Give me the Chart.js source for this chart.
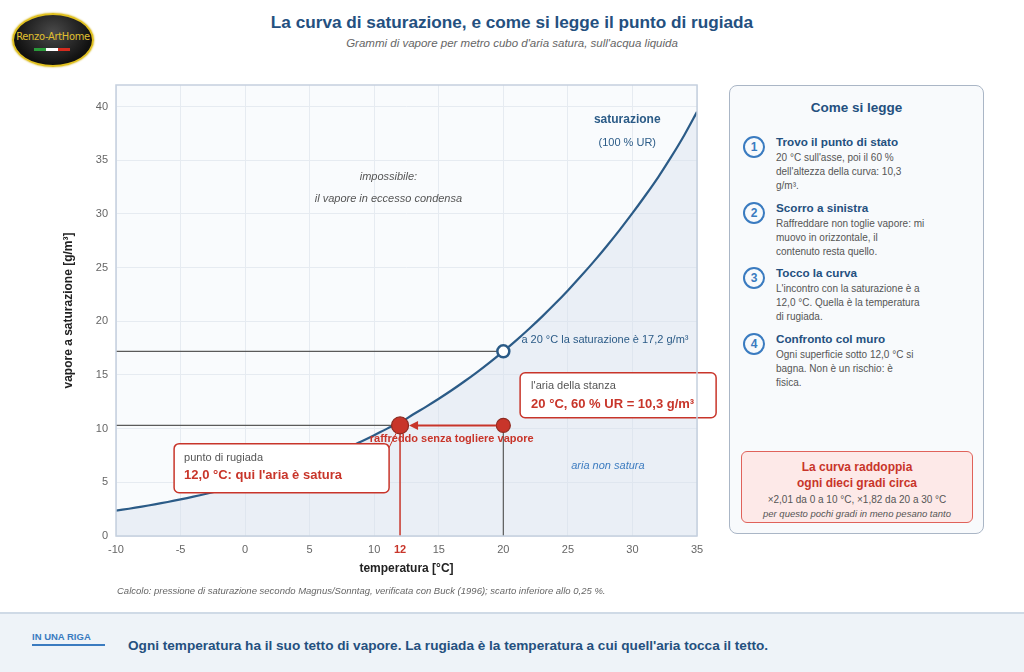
<!DOCTYPE html>
<html lang="it">
<head>
<meta charset="UTF-8">
<title>La curva di saturazione</title>
<style>
  body { margin: 0; width: 1024px; height: 672px; background: #fff; font-family: "Liberation Sans", Arial, sans-serif; position: relative; overflow: hidden; }
  .logo { position: absolute; left: 12px; top: 13px; width: 78px; height: 50px; border-radius: 50%; border: 2px solid #e0c020;
          background: radial-gradient(ellipse at 50% 35%, #4a4a4a 0%, #111 70%); box-shadow: 0 0 2px #c9a800; }
  .logo span { position: absolute; left: 0; right: 0; top: 15px; text-align: center; color: #e0c030; font-size: 11px; font-family: "Liberation Sans Narrow", "DejaVu Sans Condensed", sans-serif; letter-spacing: -0.3px; }
  .logo i { position: absolute; top: 33px; height: 3px; width: 12px; }
  h1 { position: absolute; top: 12px; left: 0; width: 1024px; margin: 0; text-align: center; font-size: 17.2px; color: #24507f; }
  .sub { position: absolute; top: 37px; left: 0; width: 1024px; text-align: center; font-size: 11.5px; font-style: italic; color: #666; }
  #wrap { position: absolute; left: 0; top: 70px; width: 720px; height: 520px; }
  .note { position: absolute; left: 117px; top: 585px; font-size: 9.5px; font-style: italic; color: #666; }
  .panel { position: absolute; left: 729px; top: 85px; width: 255px; height: 449px; border: 1.5px solid #aab6c6; border-radius: 8px; background: #f8fafc; box-sizing: border-box; }
  .panel h2 { margin: 0; position: absolute; top: 14px; width: 100%; text-align: center; font-size: 13.5px; color: #24507f; }
  .step { position: absolute; left: 10px; width: 240px; }
  .num { position: absolute; left: 3px; top: 2px; width: 18px; height: 18px; border: 2px solid #3a7bc0; border-radius: 50%; color: #3a7bc0; font-weight: bold; font-size: 12px; text-align: center; line-height: 18px; }
  .step b { position: absolute; left: 36px; top: 1px; font-size: 11.7px; color: #24507f; white-space: nowrap; }
  .step p { position: absolute; left: 36px; top: 17px; margin: 0; white-space: nowrap; font-size: 10px; line-height: 14px; color: #555; }
  .red { position: absolute; left: 11px; top: 365px; width: 232px; height: 72px; box-sizing: border-box; border: 1.5px solid #e0625a; border-radius: 6px; background: #fde9e8; text-align: center; }
  .red .t { color: #c8352a; font-weight: bold; font-size: 12px; line-height: 16px; margin-top: 7px; }
  .red .s { color: #555; font-size: 10px; margin-top: 3px; }
  .red .e { color: #555; font-size: 9.5px; font-style: italic; margin-top: 3px; }
  .band { position: absolute; left: 0; top: 612px; width: 1024px; height: 60px; background: #eef3f8; border-top: 2px solid #cfdae6; }
  .band .k { position: absolute; left: 32px; top: 17px; font-size: 9.5px; font-weight: bold; color: #3a7bc0; }
  .band .bar { position: absolute; left: 32px; top: 30px; width: 73px; height: 2px; background: #3a7bc0; }
  .band .m { position: absolute; left: 128px; top: 24px; font-size: 13.6px; font-weight: bold; color: #24507f; }
</style>
</head>
<body>

<div class="logo"><span>Renzo-ArtHome</span>
  <i style="left:20px;background:#2a9a3a"></i><i style="left:32px;background:#fff"></i><i style="left:44px;background:#d52b1e"></i>
</div>
<h1>La curva di saturazione, e come si legge il punto di rugiada</h1>
<div class="sub">Grammi di vapore per metro cubo d'aria satura, sull'acqua liquida</div>

<div id="wrap"><canvas id="chart" width="720" height="520"></canvas></div>

<div class="note">Calcolo: pressione di saturazione secondo Magnus/Sonntag, verificata con Buck (1996); scarto inferiore allo 0,25 %.</div>

<div class="panel">
  <h2>Come si legge</h2>
  <div class="step" style="top:48px"><div class="num">1</div><b>Trovo il punto di stato</b>
    <p>20 °C sull'asse, poi il 60 %<br>dell'altezza della curva: 10,3<br>g/m³.</p></div>
  <div class="step" style="top:114px"><div class="num">2</div><b>Scorro a sinistra</b>
    <p>Raffreddare non toglie vapore: mi<br>muovo in orizzontale, il<br>contenuto resta quello.</p></div>
  <div class="step" style="top:179px"><div class="num">3</div><b>Tocco la curva</b>
    <p>L'incontro con la saturazione è a<br>12,0 °C. Quella è la temperatura<br>di rugiada.</p></div>
  <div class="step" style="top:245px"><div class="num">4</div><b>Confronto col muro</b>
    <p>Ogni superficie sotto 12,0 °C si<br>bagna. Non è un rischio: è<br>fisica.</p></div>
  <div class="red">
    <div class="t">La curva raddoppia<br>ogni dieci gradi circa</div>
    <div class="s">×2,01 da 0 a 10 °C, ×1,82 da 20 a 30 °C</div>
    <div class="e">per questo pochi gradi in meno pesano tanto</div>
  </div>
</div>

<div class="band">
  <div class="k">IN UNA RIGA</div><div class="bar"></div>
  <div class="m">Ogni temperatura ha il suo tetto di vapore. La rugiada è la temperatura a cui quell'aria tocca il tetto.</div>
</div>

<script src="https://cdn.jsdelivr.net/npm/chart.js"></script>
<script>
// temperature [°C] and saturation vapour [g/m³]
const temps = [-10, -9, -8, -7, -6, -5, -4, -3, -2, -1, 0, 1, 2, 3, 4, 5, 6, 7, 8, 9, 10, 11, 12,
               13, 14, 15, 16, 17, 18, 19, 20, 21, 22, 23, 24, 25, 26, 27, 28, 29, 30, 31, 32, 33, 34, 35];
const satVapour = [2.36, 2.54, 2.74, 2.95, 3.17, 3.41, 3.66, 3.93, 4.22, 4.52, 4.85, 5.20, 5.56,
                   5.95, 6.36, 6.80, 7.26, 7.75, 8.27, 8.81, 9.39, 10.0, 10.55, 11.31, 12.03, 12.78,
                   13.57, 14.41, 15.29, 16.22, 17.2, 18.22, 19.30, 20.43, 21.62, 22.87, 24.18, 25.55,
                   26.99, 28.49, 30.06, 31.71, 33.43, 35.3, 37.3, 39.5];
const xTicks = [-10, -5, 0, 5, 10, 12, 15, 20, 25, 30, 35];
const roomT = 20, roomV = 10.3, satAtRoom = 17.2;
const dewT = 12, dewV = 10.3;

const RED = '#c8352a', BLUE = '#2b5b87';
const FONT = '"Liberation Sans", Arial, sans-serif';

function line(pts, color, width) {
  return { type: 'line', data: pts, borderColor: color, borderWidth: width, pointRadius: 0, fill: false, tension: 0, order: 1 };
}

const bgPlugin = {
  id: 'bg',
  beforeDraw(chart) {
    const { ctx, chartArea: a } = chart;
    ctx.save();
    ctx.fillStyle = '#f9fbfd';
    ctx.fillRect(a.left, a.top, a.right - a.left, a.bottom - a.top);
    ctx.restore();
  },
  afterDraw(chart) {
    const { ctx, chartArea: a } = chart;
    ctx.save();
    ctx.strokeStyle = '#c5d0de';
    ctx.lineWidth = 1.5;
    ctx.strokeRect(a.left, a.top, a.right - a.left, a.bottom - a.top);
    ctx.restore();
  }
};

function box(ctx, x, y, w, h, r) {
  ctx.beginPath();
  ctx.moveTo(x + r, y);
  ctx.arcTo(x + w, y, x + w, y + h, r);
  ctx.arcTo(x + w, y + h, x, y + h, r);
  ctx.arcTo(x, y + h, x, y, r);
  ctx.arcTo(x, y, x + w, y, r);
  ctx.closePath();
}

const notesPlugin = {
  id: 'notes',
  afterDatasetsDraw(chart) {
    const { ctx } = chart;
    const xs = chart.scales.x, ys = chart.scales.y;
    const X = v => xs.getPixelForValue(v), Y = v => ys.getPixelForValue(v);
    ctx.save();
    ctx.textBaseline = 'middle';

    // arrow: cooling at constant vapour
    const ay = Y(roomV);
    ctx.strokeStyle = RED; ctx.fillStyle = RED; ctx.lineWidth = 2;
    ctx.beginPath(); ctx.moveTo(X(roomT) - 7, ay); ctx.lineTo(X(dewT) + 16, ay); ctx.stroke();
    ctx.beginPath(); ctx.moveTo(X(dewT) + 9, ay); ctx.lineTo(X(dewT) + 18, ay - 4.5); ctx.lineTo(X(dewT) + 18, ay + 4.5); ctx.closePath(); ctx.fill();
    ctx.font = 'bold 11px ' + FONT; ctx.textAlign = 'center';
    ctx.fillText('raffreddo senza togliere vapore', X(16), Y(9.0));

    // point labels
    ctx.textAlign = 'left'; ctx.fillStyle = BLUE; ctx.font = '11px ' + FONT;
    ctx.fillText('a 20 °C la saturazione è 17,2 g/m³', X(21.4), Y(18.3));
    ctx.textAlign = 'center'; ctx.font = 'bold 12px ' + FONT;
    ctx.fillText('saturazione', X(29.6), Y(38.8));
    ctx.font = '11px ' + FONT;
    ctx.fillText('(100 % UR)', X(29.6), Y(36.6));
    ctx.fillStyle = '#555'; ctx.font = 'italic 11px ' + FONT;
    ctx.fillText('impossibile:', X(11.1), Y(33.4));
    ctx.fillText('il vapore in eccesso condensa', X(11.1), Y(31.4));
    ctx.fillStyle = '#3d7cc0';
    ctx.fillText('aria non satura', X(28.1), Y(6.5));

    // room box
    let bx = X(21.3), by = Y(15.2);
    box(ctx, bx, by, 196, 45, 5);
    ctx.fillStyle = '#fff'; ctx.fill(); ctx.strokeStyle = RED; ctx.lineWidth = 1.5; ctx.stroke();
    ctx.textAlign = 'left'; ctx.fillStyle = '#555'; ctx.font = '11px ' + FONT;
    ctx.fillText("l'aria della stanza", bx + 11, by + 13);
    ctx.fillStyle = RED; ctx.font = 'bold 13px ' + FONT;
    ctx.fillText('20 °C, 60 % UR = 10,3 g/m³', bx + 11, by + 32);

    // dew box + connector
    bx = X(-5.5); by = Y(8.6);
    ctx.strokeStyle = RED; ctx.lineWidth = 1;
    ctx.beginPath(); ctx.moveTo(bx + 213, by + 8); ctx.lineTo(X(dewT) - 3, Y(dewV) + 6); ctx.stroke();
    box(ctx, bx, by, 215, 49, 5);
    ctx.fillStyle = '#fff'; ctx.fill(); ctx.lineWidth = 1.5; ctx.stroke();
    ctx.fillStyle = '#555'; ctx.font = '11px ' + FONT;
    ctx.fillText('punto di rugiada', bx + 10, by + 14);
    ctx.fillStyle = RED; ctx.font = 'bold 13px ' + FONT;
    ctx.fillText("12,0 °C: qui l'aria è satura", bx + 10, by + 32);
    ctx.restore();
  }
};

new Chart(document.getElementById('chart'), {
  type: 'scatter',
  data: {
    datasets: [
      line([{ x: -10, y: satAtRoom }, { x: roomT, y: satAtRoom }], '#5a5a5a', 1.2),
      line([{ x: -10, y: dewV }, { x: dewT, y: dewV }], '#5a5a5a', 1.2),
      line([{ x: roomT, y: 0 }, { x: roomT, y: roomV }], '#5a5a5a', 1.2),
      line([{ x: dewT, y: 0 }, { x: dewT, y: dewV }], RED, 1.5),
      {
        type: 'line', order: 2,
        data: temps.map((t, i) => ({ x: t, y: satVapour[i] })),
        borderColor: BLUE, borderWidth: 2.2, pointRadius: 0, tension: 0.3,
        fill: 'origin', backgroundColor: 'rgba(214,224,238,0.45)'
      },
      {
        order: 0,
        data: [{ x: roomT, y: satAtRoom }],
        pointRadius: 6, pointBackgroundColor: '#fff', pointBorderColor: BLUE, pointBorderWidth: 2.5
      },
      {
        order: 0,
        data: [{ x: dewT, y: dewV }, { x: roomT, y: roomV }],
        pointRadius: [8.5, 7], pointBackgroundColor: RED, pointBorderColor: '#8e2a20', pointBorderWidth: 1.2
      }
    ]
  },
  options: {
    responsive: false,
    animation: false,
    layout: { padding: { left: 57, right: 23, top: 15, bottom: 0 } },
    plugins: { legend: { display: false }, tooltip: { enabled: false } },
    scales: {
      x: {
        type: 'linear', min: -10, max: 35,
        afterBuildTicks: s => { s.ticks = xTicks.map(v => ({ value: v })); },
        afterFit: s => { s.height = 54; },
        grid: { color: c => c.tick && c.tick.value === dewT ? 'rgba(0,0,0,0)' : '#e6ebf1', drawTicks: false },
        border: { display: false },
        ticks: {
          padding: 7,
          color: c => c.tick.value === dewT ? RED : '#666',
          font: c => ({ family: FONT, size: 11, weight: c.tick && c.tick.value === dewT ? 'bold' : 'normal' })
        },
        title: { display: true, text: 'temperatura [°C]', color: '#222', font: { family: FONT, size: 12, weight: 'bold' }, padding: { top: 0, bottom: 14 } }
      },
      y: {
        min: 0, max: 42,
        afterFit: s => { s.width = 59; },
        grid: { color: '#e6ebf1', drawTicks: false },
        border: { display: false },
        ticks: { stepSize: 5, includeBounds: false, padding: 8, color: '#666', font: { family: FONT, size: 11 } },
        title: { display: true, text: 'vapore a saturazione [g/m³]', color: '#222', font: { family: FONT, size: 12, weight: 'bold' }, padding: { top: 4, bottom: 4 } }
      }
    }
  },
  plugins: [bgPlugin, notesPlugin]
});
</script>
</body>
</html>
